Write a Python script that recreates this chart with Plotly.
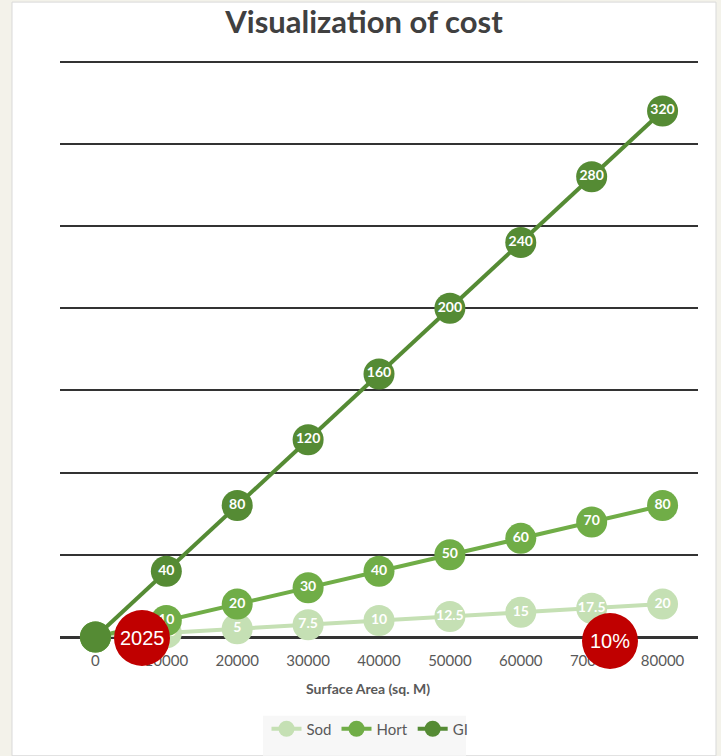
import plotly.graph_objects as go

areas = ["0", "10000", "20000", "30000", "40000", "50000", "60000", "70000", "80000"]
sod = [0, 2.5, 5, 7.5, 10, 12.5, 15, 17.5, 20]
hort = [0, 10, 20, 30, 40, 50, 60, 70, 80]
gi = [0, 40, 80, 120, 160, 200, 240, 280, 320]
series_names = ["Sod", "Hort", "GI"]
series_colors = ["#C5E0B4", "#70AD47", "#558B34"]
badges = ["2025", "10%"]
x_title = "Surface Area (sq. M)"

W, H = 721, 756
L, R, T, B = 60, 23, 60, 118
pw, ph = W - L - R, H - T - B

def px(x):
    return (x - L) / pw

def py(y):
    return (H - B - y) / ph

fig = go.Figure()
for name, vals, col in zip(series_names, [sod, hort, gi], series_colors):
    labels = ["" if v == 0 else (str(int(v)) if float(v).is_integer() else str(v)) for v in vals]
    fig.add_trace(go.Scatter(
        x=areas, y=vals, name=name, mode="lines+markers+text",
        line=dict(color=col, width=4),
        marker=dict(color=col, size=31, line=dict(width=0)),
        text=labels, textposition="middle center",
        textfont=dict(color="white", size=14, family="Lato", weight="bold"),
        cliponaxis=False,
    ))

shapes = [
    dict(type="rect", xref="paper", yref="paper", x0=px(12), x1=px(716), y0=py(757), y1=py(2),
         fillcolor="white", line=dict(color="#D9D9D9", width=1), layer="below"),
    dict(type="rect", xref="paper", yref="paper", x0=px(263), x1=px(466), y0=py(757), y1=py(717),
         fillcolor="#F7F7F7", line=dict(width=0), layer="below"),
]
badge_pos = [(142, 639), (610, 642)]
annotations = [dict(xref="paper", yref="paper", x=px(368), y=py(690), text="<b>" + x_title + "</b>",
                    showarrow=False, xanchor="center", yanchor="middle",
                    font=dict(family="Lato", size=14, color="#595959"))]
for txt, (cx, cy) in zip(badges, badge_pos):
    r = 28
    shapes.append(dict(type="circle", xref="paper", yref="paper",
                       x0=px(cx - r), x1=px(cx + r), y0=py(cy + r), y1=py(cy - r),
                       fillcolor="#C00000", line=dict(width=0), layer="above"))
    annotations.append(dict(xref="paper", yref="paper", x=px(cx), y=py(cy), text=txt,
                            showarrow=False, font=dict(color="white", size=20, family="Liberation Sans"),
                            xanchor="center", yanchor="middle"))

fig.update_layout(
    width=W, height=H,
    margin=dict(l=L, r=R, t=T, b=B),
    paper_bgcolor="#F3F2EA", plot_bgcolor="white",
    title=dict(text="<b>Visualization of cost</b>", x=364 / W, xanchor="center",
               y=1 - 22 / H, yanchor="middle",
               font=dict(family="Lato", size=31, color="#404040")),
    xaxis=dict(type="category", range=[-0.5, 8.5], showgrid=False, zeroline=False,
               ticks="", showline=False, ticklabelstandoff=13,
               tickfont=dict(family="Lato", size=15, color="#595959")),
    yaxis=dict(range=[0, 351], dtick=50, showticklabels=False, showgrid=True,
               gridcolor="#333333", gridwidth=1.5, zeroline=True, zerolinecolor="#333333",
               zerolinewidth=2.5, showline=False),
    legend=dict(orientation="h", x=px(370), xanchor="center", y=py(729), yanchor="middle",
                font=dict(family="Lato", size=15, color="#595959"), bgcolor="rgba(0,0,0,0)",
                itemwidth=30),
    showlegend=True,
    shapes=shapes, annotations=annotations,
)

fig.write_html("out.html", config={"displayModeBar": False},
               post_script="document.body.style.margin='0';document.body.style.background='#F3F2EA';")
